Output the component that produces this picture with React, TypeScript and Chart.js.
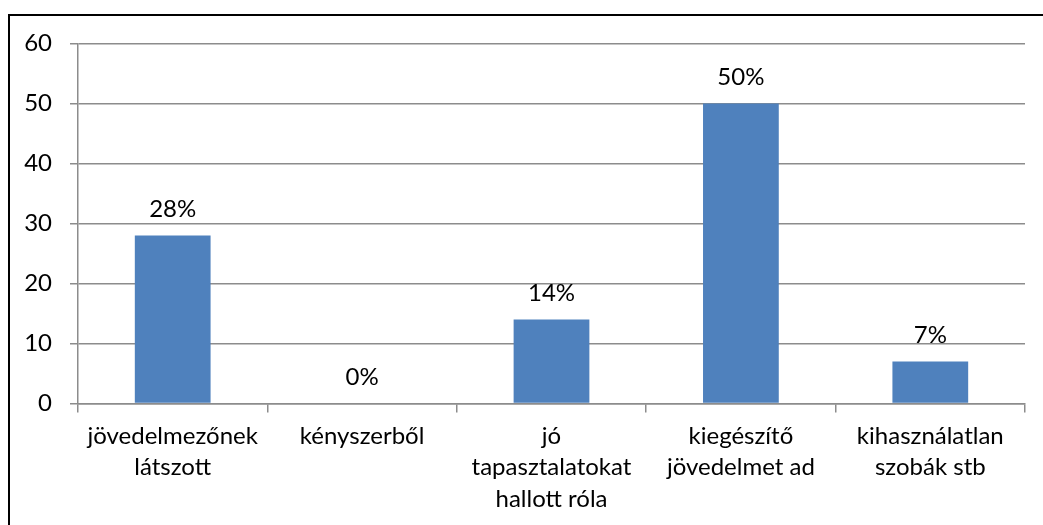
import React, { useEffect, useRef } from "react";
import { Chart, registerables } from "chart.js";

Chart.register(...registerables);

const categories: string[][] = [
  ["jövedelmezőnek", "látszott"],
  ["kényszerből"],
  ["jó", "tapasztalatokat", "hallott róla"],
  ["kiegészítő", "jövedelmet ad"],
  ["kihasználatlan", "szobák stb"],
];
const values: number[] = [28, 0, 14, 50, 7];
const yTicks: number[] = [0, 10, 20, 30, 40, 50, 60];

const FONT = "Lato";
const FONT_SIZE = 24;

const labelPlugin = {
  id: "barLabels",
  afterDatasetsDraw(chart: any) {
    const ctx = chart.ctx;
    const meta = chart.getDatasetMeta(0);
    ctx.save();
    ctx.font = `${FONT_SIZE}px ${FONT}`;
    ctx.fillStyle = "#000";
    ctx.textAlign = "center";
    ctx.textBaseline = "middle";
    meta.data.forEach((el: any, i: number) => {
      ctx.fillText(`${values[i]}%`, el.x, el.y - 26.5);
    });
    ctx.restore();
  },
};

export default function App() {
  const ref = useRef<HTMLCanvasElement>(null);
  useEffect(() => {
    document.body.style.overflow = "hidden";
    const chart = new Chart(ref.current!, {
      type: "bar",
      data: {
        labels: categories,
        datasets: [
          {
            data: values,
            backgroundColor: "#4F81BD",
            borderWidth: 0,
            barPercentage: 0.4,
            categoryPercentage: 1,
          },
        ],
      },
      options: {
        animation: false,
        responsive: false,
        maintainAspectRatio: false,
        layout: { padding: { top: 27.5, right: 18, left: 0, bottom: 0 } },
        plugins: { legend: { display: false }, tooltip: { enabled: false } },
        scales: {
          x: {
            offset: true,
            grid: {
              offset: true,
              drawOnChartArea: false,
              drawTicks: true,
              tickLength: 9,
              color: "#8c8c8c",
              lineWidth: 1.5,
            },
            border: { color: "#8c8c8c", width: 1.5 },
            ticks: {
              color: "#000",
              font: { family: FONT, size: FONT_SIZE, lineHeight: 1.31 },
              padding: 8,
              maxRotation: 0,
              autoSkip: false,
            },
            afterFit: (s: any) => {
              s.height = 120.5;
              s.paddingLeft = 0;
              s.paddingRight = 0;
            },
          },
          y: {
            min: 0,
            max: 60,
            afterBuildTicks: (s: any) => {
              s.ticks = yTicks.map((v) => ({ value: v }));
            },
            grid: {
              color: "#8c8c8c",
              lineWidth: 1.5,
              tickLength: 8,
            },
            border: { color: "#8c8c8c", width: 1.5 },
            ticks: {
              color: "#000",
              font: { family: FONT, size: FONT_SIZE },
              padding: 18,
            },
            afterFit: (s: any) => {
              s.width = 68;
              s.paddingTop = 0;
              s.paddingBottom = 0;
            },
          },
        },
      },
      plugins: [labelPlugin],
    });
    return () => chart.destroy();
  }, []);
  return (
    <div
      style={{
        position: "absolute",
        left: 8,
        top: 14,
        border: "2px solid #000",
        width: 1060,
        height: 540,
        boxSizing: "border-box",
      }}
    >
      <canvas ref={ref} width={1033} height={508} style={{ display: "block" }} />
    </div>
  );
}
